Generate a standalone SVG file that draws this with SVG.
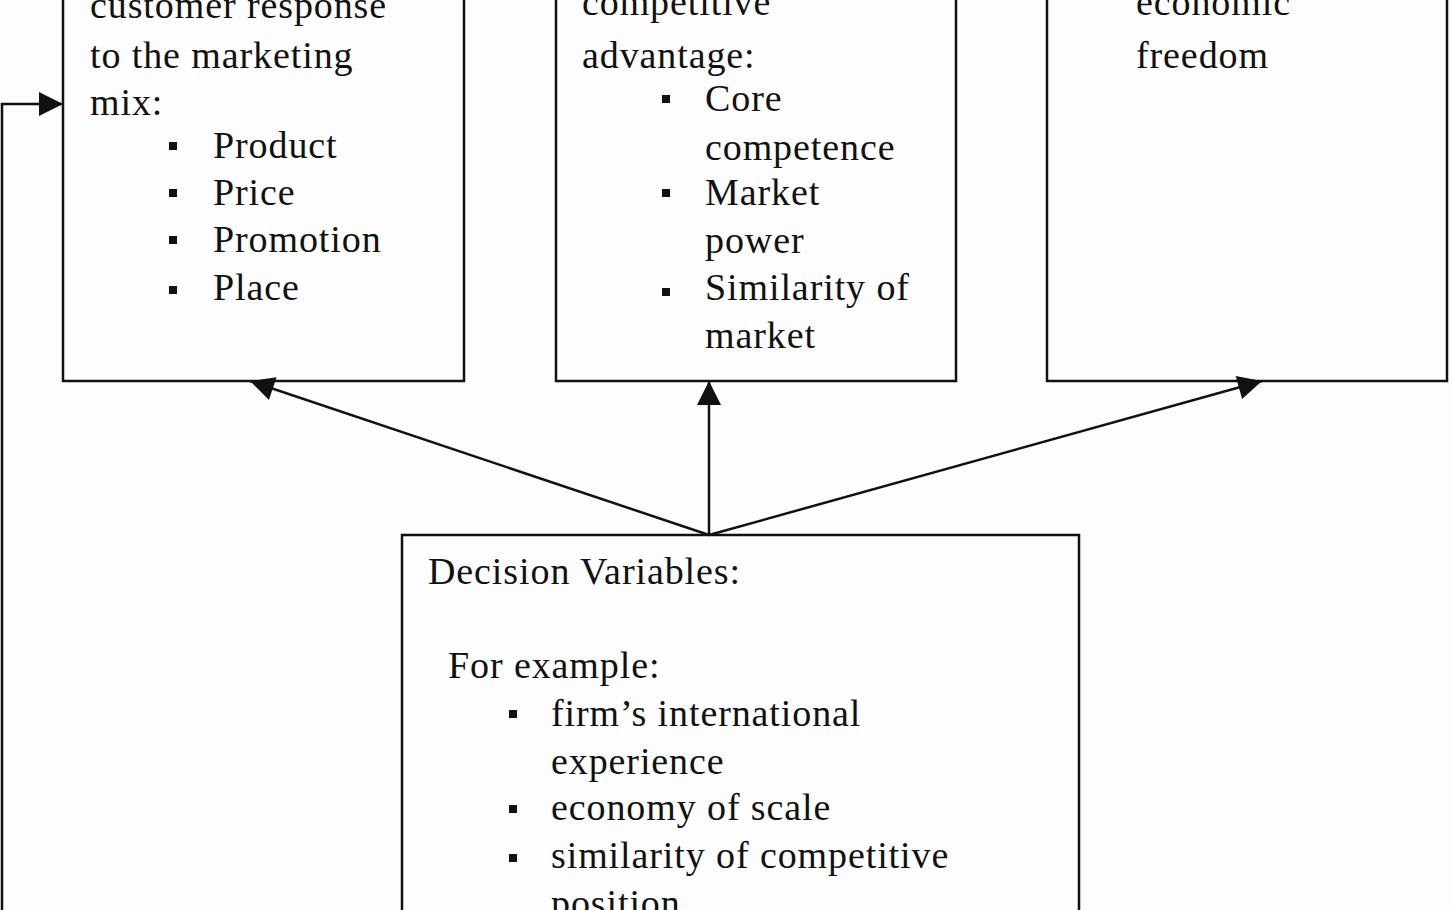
<svg xmlns="http://www.w3.org/2000/svg" width="1452" height="910" viewBox="0 0 1452 910">
<defs>
<style>
text{font-family:"Liberation Serif","Times New Roman",serif;font-size:38px;letter-spacing:0.9px;fill:#111}
.box{fill:none;stroke:#111;stroke-width:2.5}
.ln{fill:none;stroke:#111;stroke-width:2.5}
.b{fill:#111}
</style>
<marker id="ah2" viewBox="0 0 10 10" refX="10" refY="5" markerWidth="28" markerHeight="24" markerUnits="userSpaceOnUse" orient="auto"><path d="M0,0L10,5L0,10z" fill="#111"/></marker>
</defs>
<rect width="1452" height="910" fill="#fdfdfd"/>
<g id="node-customer">
<rect class="box" x="63" y="-20" width="401" height="401"/>
<text x="90" y="18">customer response</text>
<text x="90" y="68">to the marketing</text>
<text x="90" y="115">mix:</text>
<rect class="b" x="169" y="142" width="8" height="8"/><text x="213" y="158">Product</text>
<rect class="b" x="169" y="189" width="8" height="8"/><text x="213" y="205">Price</text>
<rect class="b" x="169" y="236" width="8" height="8"/><text x="213" y="252">Promotion</text>
<rect class="b" x="169" y="286" width="8" height="8"/><text x="213" y="300">Place</text>
</g>
<g id="node-competitive">
<rect class="box" x="556" y="-20" width="400" height="401"/>
<text x="582" y="15">competitive</text>
<text x="582" y="68">advantage:</text>
<rect class="b" x="662" y="95" width="8" height="8"/><text x="705" y="111">Core</text>
<text x="705" y="160">competence</text>
<rect class="b" x="662" y="189" width="8" height="8"/><text x="705" y="205">Market</text>
<text x="705" y="253">power</text>
<rect class="b" x="662" y="288" width="8" height="8"/><text x="705" y="300">Similarity of</text>
<text x="705" y="348">market</text>
</g>
<g id="node-economic">
<rect class="box" x="1047" y="-20" width="400" height="401"/>
<text x="1136" y="15">economic</text>
<text x="1136" y="68">freedom</text>
</g>
<g id="node-decision">
<rect class="box" x="402" y="535" width="677" height="400"/>
<text x="428" y="584">Decision Variables:</text>
<text x="448" y="678">For example:</text>
<rect class="b" x="509" y="710" width="8" height="8"/><text x="551" y="726">firm’s international</text>
<text x="551" y="774">experience</text>
<rect class="b" x="509" y="805" width="8" height="8"/><text x="551" y="820">economy of scale</text>
<rect class="b" x="509" y="854" width="8" height="8"/><text x="551" y="868">similarity of competitive</text>
<text x="551" y="916">position</text>
</g>
<g id="connectors">
<line class="ln" x1="709" y1="535" x2="250" y2="381" marker-end="url(#ah2)"/>
<line class="ln" x1="709" y1="535" x2="709" y2="381" marker-end="url(#ah2)"/>
<line class="ln" x1="709" y1="535" x2="1262" y2="381" marker-end="url(#ah2)"/>
<polyline class="ln" points="2,912 2,104 63,104" marker-end="url(#ah2)"/>
</g>
</svg>
